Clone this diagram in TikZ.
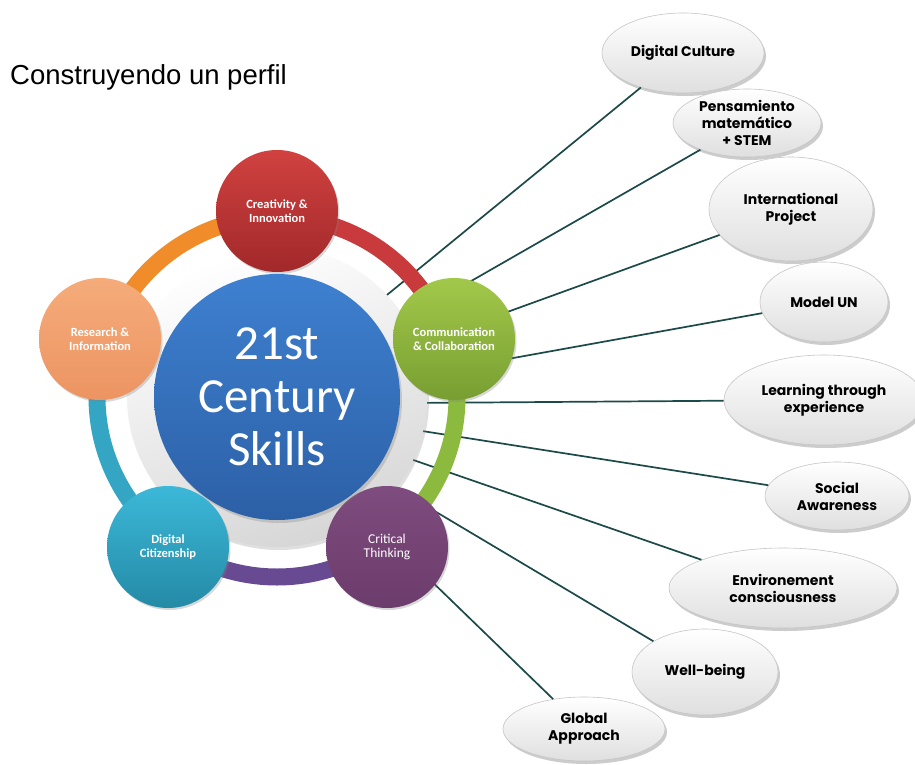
\documentclass[tikz,border=0pt]{standalone}
\usepackage{fontspec}
\setmainfont{Carlito}
\newfontfamily\titlefont{Liberation Sans}
\newfontfamily\bubblefont{Poppins}
\usetikzlibrary{shapes.geometric,shadows}

% colours
\definecolor{coreTop}{RGB}{62,128,208}
\definecolor{coreBot}{RGB}{44,96,166}
\definecolor{creatTop}{RGB}{208,66,64}
\definecolor{creatBot}{RGB}{162,40,42}
\definecolor{resTop}{RGB}{245,172,122}
\definecolor{resBot}{RGB}{236,148,98}
\definecolor{commTop}{RGB}{162,200,74}
\definecolor{commBot}{RGB}{120,158,50}
\definecolor{citTop}{RGB}{60,184,216}
\definecolor{citBot}{RGB}{36,138,166}
\definecolor{critTop}{RGB}{126,76,126}
\definecolor{critBot}{RGB}{108,60,108}
\definecolor{ringOrange}{RGB}{240,140,42}
\definecolor{ringRed}{RGB}{200,58,60}
\definecolor{ringGreen}{RGB}{140,186,62}
\definecolor{ringPurple}{RGB}{104,74,146}
\definecolor{ringTeal}{RGB}{52,166,196}
\definecolor{linkTeal}{RGB}{28,74,72}

\begin{document}
\begin{tikzpicture}[x=1pt, y=-1pt,
  sat/.style={circle, minimum size=122pt, inner sep=0pt, align=center, text=white,
    font=\fontsize{12.5}{14}\selectfont\bfseries,
    drop shadow={opacity=0.3, shadow xshift=1.5pt, shadow yshift=-2pt}},
  ringarc/.style={line width=17pt},
  bubble/.style={ellipse, draw=gray!45, line width=0.6pt, top color=white, bottom color=gray!25,
    inner sep=0pt, align=center, font=\bubblefont\fontsize{14}{17}\selectfont\bfseries,
    drop shadow={opacity=0.4, shadow xshift=2pt, shadow yshift=-3pt}},
  link/.style={draw=linkTeal, line width=1.7pt}]

\useasboundingbox[fill=white] (0,0) rectangle (915,765);

% === Title ===
\node[anchor=base west, inner sep=0pt, font=\titlefont\fontsize{27.5}{32}\selectfont]
  (Title) at (10,85) {Construyendo un perfil};

% === Outer bubbles ===
\foreach \name/\x/\y/\w/\h/\txt in {
    Culture/683/53/162/80/{Digital Culture},
    Stem/747/123/148/68/{Pensamiento\\matemático\\+ STEM},
    Project/791/209/164/104/{International\\Project},
    ModelUN/824/302/128/80/{Model UN},
    Learning/824/400/200/90/{Learning through\\experience},
    Social/837/496/144/68/{Social\\Awareness},
    Environ/783/588/228/80/{Environement\\consciousness},
    Wellbeing/705/672/146/86/{Well-being},
    Global/584/729/162/64/{Global\\Approach}}{
  \node[bubble, minimum width=\w pt, minimum height=\h pt] (Bubble-\name) at (\x,\y) {\txt};
}

% === Hidden link ends ===
\foreach \name/\x/\y in {Culture/360/317, Stem/445/296, Project/466/327, ModelUN/480/364,
    Learning/410/403, Social/403/428, Environ/396/454, Wellbeing/411/497, Global/423/573}{
  \coordinate (End-\name) at (\x,\y);
}

% === Links ===
\foreach \name in {Culture,Stem,Project,ModelUN,Learning,Social,Environ,Wellbeing,Global}{
  \draw[link] (Bubble-\name) -- (End-\name);
}

% === Disc and ring ===
\node[circle, minimum size=300pt, inner sep=0pt, top color=white, bottom color=gray!32,
  shading angle=20, drop shadow={opacity=0.25, shadow xshift=2pt, shadow yshift=-3pt}]
  (Disc) at (277,397) {};

\draw[ringarc, ringOrange] (Disc.center) ++(-90:180) arc[start angle=-90, end angle=-162, radius=180];
\draw[ringarc, ringTeal] (Disc.center) ++(-162:180) arc[start angle=-162, end angle=-234, radius=180];
\draw[ringarc, ringPurple] (Disc.center) ++(-234:180) arc[start angle=-234, end angle=-306, radius=180];
\draw[ringarc, ringGreen] (Disc.center) ++(-306:180) arc[start angle=-306, end angle=-378, radius=180];
\draw[ringarc, ringRed] (Disc.center) ++(-18:180) arc[start angle=-18, end angle=-90, radius=180];

% === Skills ===
\node[sat, top color=creatTop, bottom color=creatBot] (Creativity) at (277,211) {Creativity \&\\Innovation};
\node[sat, top color=resTop, bottom color=resBot] (Research) at (100,339) {Research \&\\Information};
\node[sat, top color=commTop, bottom color=commBot] (Communication) at (454,339) {Communication\\\& Collaboration};
\node[sat, top color=citTop, bottom color=citBot] (Citizenship) at (168,547) {Digital\\Citizenship};
\node[sat, top color=critTop, bottom color=critBot, font=\fontsize{13.5}{14}\selectfont] (Critical) at (387,547) {Critical\\Thinking};

% === Core ===
\node[circle, minimum size=246pt, inner sep=0pt, top color=coreTop, bottom color=coreBot,
  text=white, align=center, font=\fontsize{49}{53}\selectfont,
  drop shadow={opacity=0.3, shadow xshift=2pt, shadow yshift=-3pt}]
  (Core) at (277,397) {21st\\Century\\Skills};
\end{tikzpicture}
\end{document}
